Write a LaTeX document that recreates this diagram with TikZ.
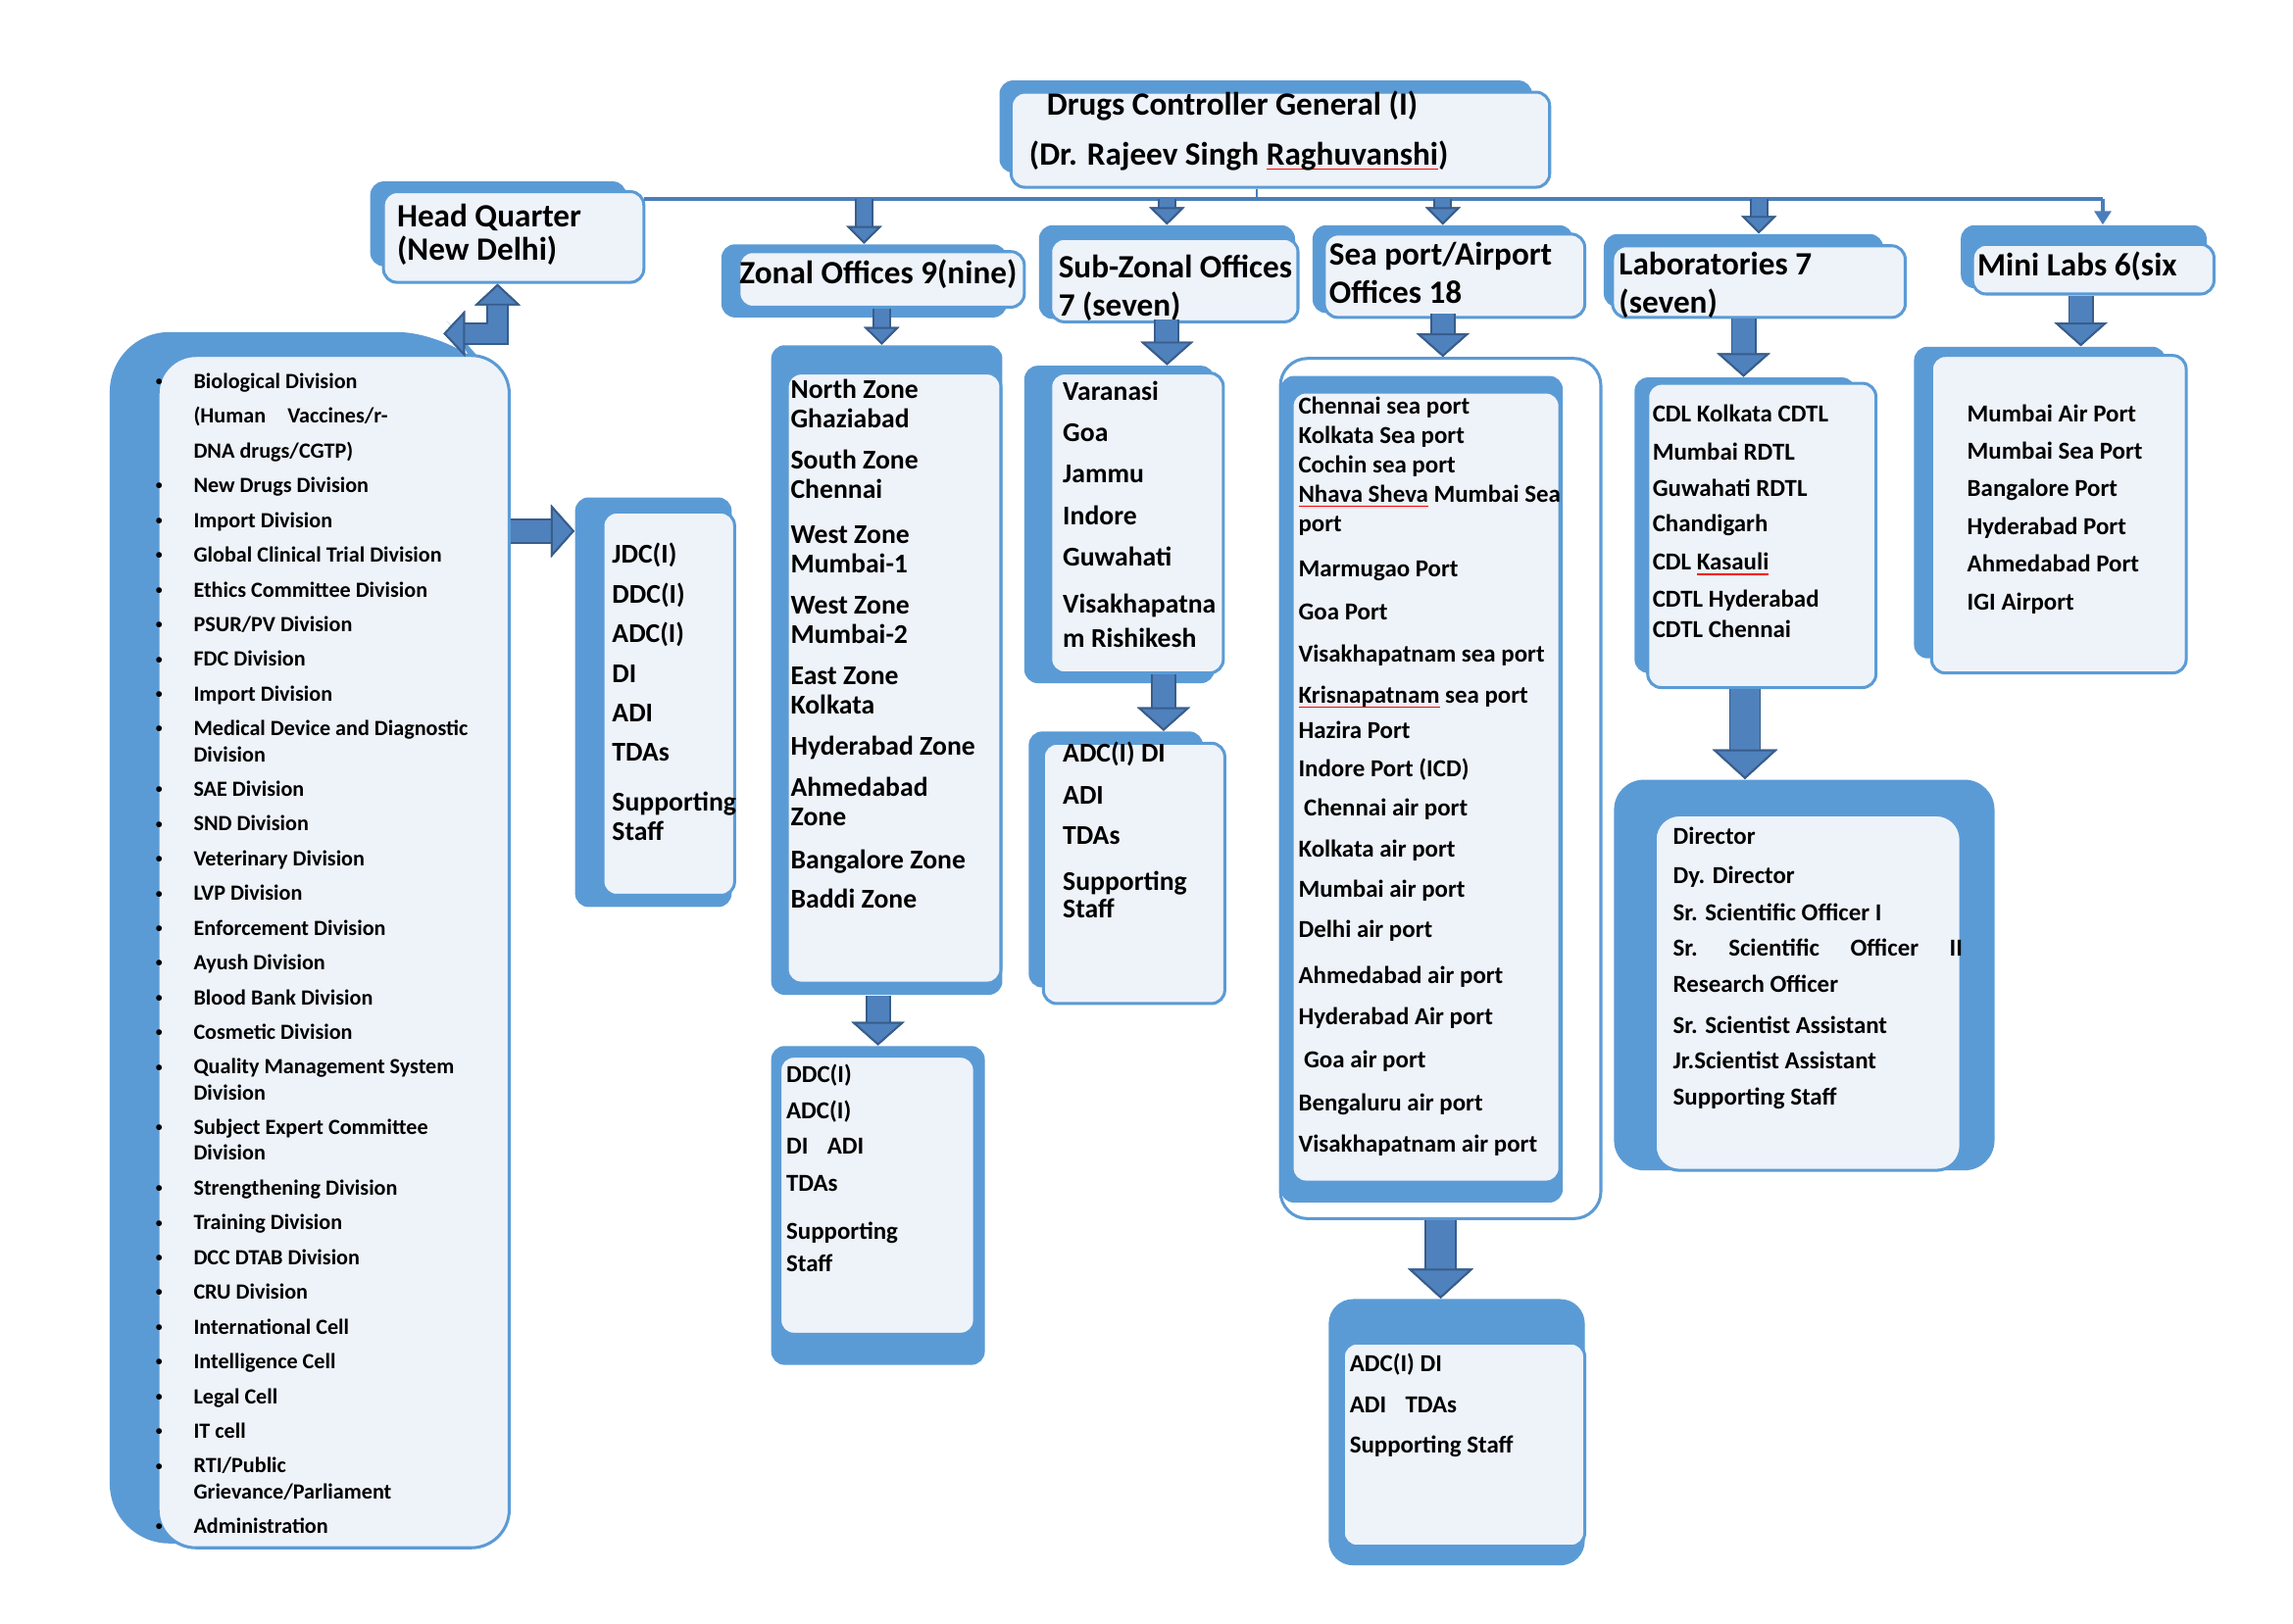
\documentclass[tikz,border=0pt]{standalone}
\usepackage{fontspec}
\setmainfont{Carlito}
\usetikzlibrary{arrows.meta,fit}
\definecolor{backblue}{RGB}{91,155,213}
\definecolor{frontfill}{RGB}{238,243,250}
\definecolor{arrowfill}{RGB}{79,129,189}
\definecolor{arrowedge}{RGB}{56,93,138}
\definecolor{busblue}{RGB}{74,126,187}
\newsavebox\spellbox
\newcommand\spell[1]{\sbox\spellbox{#1}\rlap{\color{red}\rule[-1.8pt]{\wd\spellbox}{0.6pt}}\usebox\spellbox}
\newcommand\bul{\makebox[14pt][l]{\raisebox{1pt}{\fontsize{5}{5}\selectfont\textbullet}}}
\newcommand\nob{\hspace*{14pt}}
\tikzset{
  backbox/.style={fill=backblue, rounded corners=5pt, inner sep=0pt},
  frontbox/.style={fill=frontfill, draw=backblue, line width=1.1pt, rounded corners=5pt, inner sep=0pt},
  txt/.style={anchor=north west, inner sep=0pt, align=left},
  bus/.style={draw=busblue, line width=1.6pt},
  thinbus/.style={draw=busblue, line width=0.6pt},
  blk/.style n args={4}{line width=#1, draw=arrowfill,
    preaction={draw=arrowedge, line width=#2, -{Triangle[width=#3, length=#4, fill=arrowedge, color=arrowedge, line width=.7pt]}},
    -{Triangle[width=#3, length=#4, fill=arrowfill, color=arrowedge, line width=.7pt]}},
  blkS/.style={blk={5.5pt}{6.9pt}{13pt}{6.5pt}},
  blkM/.style={blk={8pt}{9.4pt}{19.5pt}{8.7pt}},
  blkL/.style={blk={10.5pt}{11.9pt}{24pt}{11pt}},
  hqarrow/.style={line width=7pt, draw=arrowfill, line join=miter,
    preaction={draw=arrowedge, line width=8.4pt, {Triangle[width=17pt, length=8pt, fill=arrowedge, color=arrowedge, line width=.7pt]}-{Triangle[width=17pt, length=8pt, fill=arrowedge, color=arrowedge, line width=.7pt]}},
    {Triangle[width=17pt, length=8pt, fill=arrowfill, color=arrowedge, line width=.7pt]}-{Triangle[width=17pt, length=8pt, fill=arrowfill, color=arrowedge, line width=.7pt]}}
}
\begin{document}
\begin{tikzpicture}[x=0.018952cm, y=-0.018952cm]
\useasboundingbox (0,0) rectangle (1567,1109.5);

\node[backbox, fit={(683,55) (1047,118)}] (dcgb) {};
\node[frontbox, fit={(691,63) (1059,128)}] (dcg) {};
\node[backbox, fit={(253,124) (428,182)}] (hqb) {};
\node[frontbox, fit={(262,131) (440,193)}] (hq) {};
\node[backbox, fit={(493,167) (688,217)}] (zob) {};
\node[frontbox, fit={(505,172) (700,210)}] (zo) {};
\node[backbox, fit={(710,154) (885,218)}] (szob) {};
\node[frontbox, fit={(718,163) (887,220)}] (szo) {};
\node[backbox, fit={(897,154) (1075,214)}] (seab) {};
\node[frontbox, fit={(905,160) (1083,217)}] (sea) {};
\node[backbox, fit={(1096,160) (1287,210)}] (labb) {};
\node[frontbox, fit={(1102,168) (1302,217)}] (lab) {};
\node[backbox, fit={(1340,154) (1508,197)}] (minib) {};
\node[frontbox, fit={(1348,167) (1513,201)}] (mini) {};

\fill[backblue, rounded corners=22pt] (75,1055) -- (75,227) -- (312,227) -- (332,250) -- (332,1055) -- cycle;
\node[frontbox, rounded corners=14pt, fit={(108,243) (348,1058)}] (hqdiv) {};
\node[backbox, fit={(393,340) (500,620)}] (jdcb) {};
\node[frontbox, fit={(412,350) (502,612)}] (jdc) {};
\node[backbox, fit={(527,236) (685,680)}] (zolb) {};
\node[frontbox, fit={(538,255) (684,672)}] (zol) {};
\node[backbox, fit={(527,715) (673,933)}] (ddcb) {};
\node[frontbox, fit={(533,722) (666,912)}] (ddc) {};
\node[backbox, fit={(700,250) (830,467)}] (szlb) {};
\node[frontbox, fit={(718,255) (836,460)}] (szl) {};
\node[backbox, fit={(703,500) (822,675)}] (szab) {};
\node[frontbox, fit={(713,508) (837,686)}] (sza) {};
\node[frontbox, fill=white, rounded corners=10pt, fit={(875,245) (1094,833)}] (seaw) {};
\node[backbox, fit={(875,257) (1068,822)}] (sealb) {};
\node[frontbox, fit={(883,268) (1066,808)}] (seal) {};
\node[backbox, rounded corners=9pt, fit={(908,888) (1083,1070)}] (seaab) {};
\node[frontbox, fit={(918,918) (1083,1057)}] (seaa) {};
\node[backbox, fit={(1117,258) (1268,460)}] (lablb) {};
\node[frontbox, fit={(1126,262) (1282,470)}] (labl) {};
\node[backbox, rounded corners=11pt, fit={(1103,533) (1363,800)}] (dirb) {};
\node[frontbox, rounded corners=9pt, fit={(1131,557) (1340,800)}] (dir) {};
\node[backbox, fit={(1308,237) (1480,450)}] (minilb) {};
\node[frontbox, fit={(1320,243) (1494,460)}] (minil) {};

\node[txt, font=\fontsize{12}{18.4}\selectfont\bfseries] (dcgt) at (703,61.7) {\hspace*{6.5pt}Drugs Controller General (I)\\(Dr. Rajeev Singh \spell{Raghuvanshi})};
\node[txt, font=\fontsize{12}{12.5}\selectfont\bfseries] (hqt) at (271,139) {Head Quarter\\(New Delhi)};
\node[txt, font=\fontsize{12}{14.1}\selectfont\bfseries] (zot) at (505,177) {Zonal Offices 9(nine)};
\node[txt, font=\fontsize{12}{14.1}\selectfont\bfseries] (szot) at (723,174) {Sub-Zonal Offices\\7 (seven)};
\node[txt, font=\fontsize{12}{14.1}\selectfont\bfseries] (seat) at (908,165) {Sea port/Airport\\Offices 18};
\node[txt, font=\fontsize{12}{14.1}\selectfont\bfseries] (labt) at (1106,172) {Laboratories 7\\(seven)};
\node[txt, font=\fontsize{12}{14.1}\selectfont\bfseries] (minit) at (1351,172) {Mini Labs 6(six};

\node[txt, font=\fontsize{8}{9.5}\selectfont\bfseries] (hqdivt) at (106,254.8) {\bul Biological Division\\[3.3pt]
\nob (Human\quad Vaccines/r-\\[3.3pt]
\nob DNA drugs/CGTP)\\[3.3pt]
\bul New Drugs Division\\[3.3pt]
\bul Import Division\\[3.3pt]
\bul Global Clinical Trial Division\\[3.3pt]
\bul Ethics Committee Division\\[3.3pt]
\bul PSUR/PV Division\\[3.3pt]
\bul FDC Division\\[3.3pt]
\bul Import Division\\[3.3pt]
\bul Medical Device and Diagnostic\\
\nob Division\\[3.3pt]
\bul SAE Division\\[3.3pt]
\bul SND Division\\[3.3pt]
\bul Veterinary Division\\[3.3pt]
\bul LVP Division\\[3.3pt]
\bul Enforcement Division\\[3.3pt]
\bul Ayush Division\\[3.3pt]
\bul Blood Bank Division\\[3.3pt]
\bul Cosmetic Division\\[3.3pt]
\bul Quality Management System\\
\nob Division\\[3.3pt]
\bul Subject Expert Committee\\
\nob Division\\[3.3pt]
\bul Strengthening Division\\[3.3pt]
\bul Training Division\\[3.3pt]
\bul DCC DTAB Division\\[3.3pt]
\bul CRU Division\\[3.3pt]
\bul International Cell\\[3.3pt]
\bul Intelligence Cell\\[3.3pt]
\bul Legal Cell\\[3.3pt]
\bul IT cell\\[3.3pt]
\bul RTI/Public\\
\nob Grievance/Parliament\\[3.3pt]
\bul Administration};

\node[txt, font=\fontsize{10}{10.8}\selectfont\bfseries] (jdct) at (418,371) {JDC(I)\\[3.8pt]DDC(I)\\[3.8pt]ADC(I)\\[3.8pt]DI\\[3.8pt]ADI\\[3.8pt]TDAs\\[7.6pt]Supporting\\Staff};
\node[txt, font=\fontsize{10}{10.8}\selectfont\bfseries] (zolt) at (540,259) {North Zone\\Ghaziabad\\[4.4pt]South Zone\\Chennai\\[6pt]West Zone\\Mumbai-1\\[4.4pt]West Zone\\Mumbai-2\\[4.4pt]East Zone\\Kolkata\\[4.4pt]Hyderabad Zone\\[4.4pt]Ahmedabad\\Zone\\[4.9pt]Bangalore Zone\\[3.8pt]Baddi Zone};
\node[txt, font=\fontsize{9}{11.9}\selectfont\bfseries] (ddct) at (537,727) {DDC(I)\\[1.4pt]ADC(I)\\[1.4pt]DI\hspace{7pt}ADI\\[1.6pt]TDAs\\[6pt]Supporting\\Staff};
\node[txt, font=\fontsize{10}{12.5}\selectfont\bfseries] (szlt) at (726,260) {Varanasi\\[2.7pt]Goa\\[2.7pt]Jammu\\[3.2pt]Indore\\[2.7pt]Guwahati\\[4.9pt]Visakhapatna\\m Rishikesh};
\node[txt, font=\fontsize{10}{10.3}\selectfont\bfseries] (szat) at (726,507) {ADC(I) DI\\[5.1pt]ADI\\[4.6pt]TDAs\\[6.5pt]Supporting\\Staff};
\node[txt, font=\fontsize{9}{10.8}\selectfont\bfseries] (sealt) at (887,271) {Chennai sea port\\
Kolkata Sea port\\
Cochin sea port\\
\spell{Nhava Sheva} Mumbai Sea\\
port\\[6pt]
Marmugao Port\\[4.9pt]
Goa Port\\[4.9pt]
Visakhapatnam sea port\\[4.3pt]
\spell{Krisnapatnam} sea port\\[2.2pt]
Hazira Port\\[3.3pt]
Indore Port (ICD)\\[3.8pt]
\hspace*{2pt}Chennai air port\\[4.3pt]
Kolkata air port\\[3.8pt]
Mumbai air port\\[4.3pt]
Delhi air port\\[6pt]
Ahmedabad air port\\[4.3pt]
Hyderabad Air port\\[5.4pt]
\hspace*{2pt}Goa air port\\[4.9pt]
Bengaluru air port\\[4.3pt]
Visakhapatnam air port};
\node[txt, font=\fontsize{9}{14.9}\selectfont\bfseries] (seaat) at (922,925) {ADC(I) DI\\ADI\hspace{7pt}TDAs\\Supporting Staff};
\node[txt, font=\fontsize{9}{11.4}\selectfont\bfseries] (lablt) at (1129,276) {CDL Kolkata CDTL\\[2.7pt]Mumbai RDTL\\[2.2pt]Guwahati RDTL\\[1.6pt]Chandigarh\\[2.7pt]CDL \spell{Kasauli}\\[2.2pt]CDTL Hyderabad\\CDTL Chennai};
\node[txt, font=\fontsize{9}{13}\selectfont\bfseries] (dirt) at (1143,565) {Director\\[1.6pt]Dy. Director\\[0.5pt]Sr. Scientific Officer I\\\makebox[106.7pt][s]{Sr.\hfill Scientific\hfill Officer\hfill II}\\[0.5pt]Research Officer\\[2.2pt]Sr. Scientist Assistant\\Jr.Scientist Assistant\\[0.5pt]Supporting Staff};
\node[txt, font=\fontsize{9}{13.9}\selectfont\bfseries] (minilt) at (1344,276) {Mumbai Air Port\\Mumbai Sea Port\\Bangalore Port\\Hyderabad Port\\Ahmedabad Port\\IGI Airport};

\coordinate (busL) at (440,136);
\coordinate (busR) at (1437,136);
\draw[thinbus] ([xshift=-8.7pt]dcg.south) -- ([xshift=-8.7pt]dcg.south |- busL);
\draw[bus] (busL) -- (busR);
\draw[blkS] (zob.north |- busL) -- (zob.north);
\draw[blkS] (szob.north |- busL) -- (szob.north);
\draw[blkS] (seab.north |- busL) -- (seab.north);
\draw[blkS] (lab.north |- busL) -- (lab.north |- labb.north);
\draw[bus, -{Triangle[length=5pt, width=6pt]}] (busR) -- (busR |- minib.north);
\coordinate (hqbend) at (340,228);
\coordinate (hqtip) at (303,228);
\draw[hqarrow] (hqtip) -- (hqbend) -- (hqbend |- hq.south);
\coordinate (hqout) at (349,363);
\draw[blkM] (hqout) -- (hqout -| jdcb.west);
\draw[blkS] (zo.south) -- (zo.south |- zolb.north);
\draw[blkM] (zolb.south -| ddcb.north) -- (ddcb.north);
\draw[blkM] (szob.south) -- (szob.south |- szlb.north);
\draw[blkM] ([xshift=9.8pt]szl.south) -- ([xshift=9.8pt]szl.south |- szab.north);
\draw[blkM] (seab.south) -- (seab.south |- seaw.north);
\draw[blkL] (seaw.south) -- (seaw.south |- seaab.north);
\draw[blkM] (labb.south |- lab.south) -- (labb.south |- lablb.north);
\draw[blkL] (lablb.south |- labl.south) -- (lablb.south |- dirb.north);
\draw[blkM] ([xshift=-4.6pt]mini.south) -- ([xshift=-4.6pt]mini.south |- minilb.north);
\end{tikzpicture}
\end{document}
